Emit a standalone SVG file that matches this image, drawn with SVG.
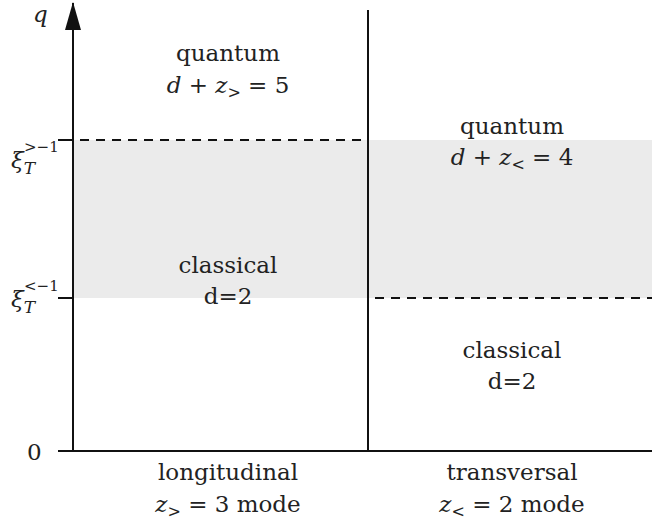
<svg xmlns="http://www.w3.org/2000/svg" width="668" height="524" viewBox="0 0 668 524">
<style>
text{font-family:'DejaVu Serif','Liberation Serif',serif;font-size:23px;fill:#222}
.c{text-anchor:middle}
.i{font-style:italic}
.ax{stroke:#111;stroke-width:2;fill:none}
.d{stroke:#111;stroke-width:2;stroke-dasharray:9,7;fill:none}
.s{font-size:16px}
</style>
<defs>
<marker id="ah" viewBox="0 0 28 16" refX="27" refY="8" markerWidth="28" markerHeight="16" markerUnits="userSpaceOnUse" orient="auto">
<path d="M0,0 L28,8 L0,16 Z" fill="#111"/>
</marker>
</defs>
<g id="regions">
<rect x="73" y="140" width="295" height="158" fill="#ebebeb"/>
<rect x="368" y="140" width="284" height="158" fill="#ebebeb"/>
</g>
<g id="connectors">
<line class="ax" x1="73" y1="451" x2="73" y2="3" marker-end="url(#ah)"/>
<line class="ax" x1="58" y1="451" x2="652" y2="451"/>
<line class="ax" x1="368" y1="10" x2="368" y2="451"/>
<line class="ax" x1="58" y1="140" x2="73" y2="140"/>
<line class="d" x1="80" y1="140" x2="368" y2="140"/>
<line class="ax" x1="58" y1="298" x2="73" y2="298"/>
<line class="d" x1="375" y1="298" x2="652" y2="298"/>
</g>
<g id="axis-labels">
<text class="i" x="33" y="22">q</text>
<text x="11" y="168" font-size="27"><tspan class="i">ξ</tspan><tspan class="i" font-size="17" dy="6">T</tspan><tspan font-size="15" dx="-11" dy="-22">&gt;−1</tspan></text>
<text x="11" y="307" font-size="27"><tspan class="i">ξ</tspan><tspan class="i" font-size="17" dy="6">T</tspan><tspan font-size="15" dx="-11" dy="-22">&lt;−1</tspan></text>
<text x="27" y="460">0</text>
</g>
<g id="left-quantum">
<text class="c" x="228" y="61">quantum</text>
<text class="c" x="228" y="93"><tspan class="i">d</tspan> + <tspan class="i">z</tspan><tspan class="s" dy="5">&gt;</tspan><tspan dy="-5"> = 5</tspan></text>
</g>
<g id="left-classical">
<text class="c" x="228" y="273">classical</text>
<text class="c" x="228" y="304">d=2</text>
</g>
<g id="right-quantum">
<text class="c" x="512" y="134">quantum</text>
<text class="c" x="512" y="165"><tspan class="i">d</tspan> + <tspan class="i">z</tspan><tspan class="s" dy="5">&lt;</tspan><tspan dy="-5"> = 4</tspan></text>
</g>
<g id="right-classical">
<text class="c" x="512" y="358">classical</text>
<text class="c" x="512" y="389">d=2</text>
</g>
<g id="left-caption">
<text class="c" x="228" y="480">longitudinal</text>
<text class="c" x="228" y="512"><tspan class="i">z</tspan><tspan class="s" dy="5">&gt;</tspan><tspan dy="-5"> = 3 mode</tspan></text>
</g>
<g id="right-caption">
<text class="c" x="512" y="480">transversal</text>
<text class="c" x="512" y="512"><tspan class="i">z</tspan><tspan class="s" dy="5">&lt;</tspan><tspan dy="-5"> = 2 mode</tspan></text>
</g>
</svg>
